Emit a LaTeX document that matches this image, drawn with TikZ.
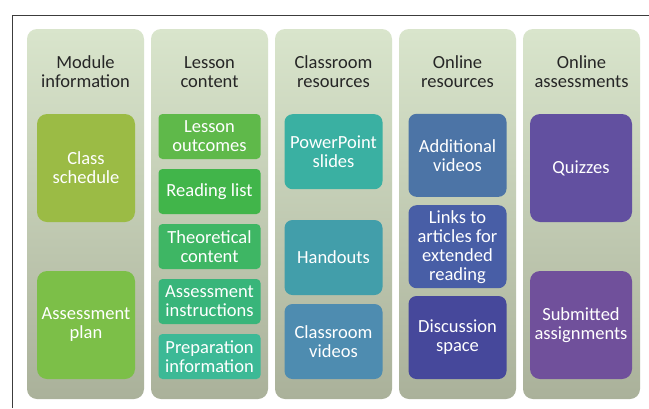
\documentclass[tikz,border=0pt]{standalone}
\usepackage{fontspec}
\setmainfont{Carlito}
\usetikzlibrary{positioning}

\definecolor{colTop}{RGB}{217,229,204}
\definecolor{colMid}{RGB}{202,212,188}
\definecolor{colBot}{RGB}{170,177,154}
\definecolor{headGray}{RGB}{38,38,38}
\definecolor{frameGray}{RGB}{60,60,60}
\definecolor{schedGreen}{RGB}{155,187,69}
\definecolor{planGreen}{RGB}{124,191,72}
\definecolor{lessA}{RGB}{95,185,74}
\definecolor{lessB}{RGB}{65,181,74}
\definecolor{lessC}{RGB}{62,182,100}
\definecolor{lessD}{RGB}{56,181,122}
\definecolor{lessE}{RGB}{60,185,150}
\definecolor{roomA}{RGB}{58,176,162}
\definecolor{roomB}{RGB}{66,158,170}
\definecolor{roomC}{RGB}{78,140,176}
\definecolor{webA}{RGB}{76,116,166}
\definecolor{webB}{RGB}{72,94,166}
\definecolor{webC}{RGB}{70,72,155}
\definecolor{quizPurple}{RGB}{98,80,160}
\definecolor{subPurple}{RGB}{112,80,155}

\tikzset{
  column/.style={rounded corners=10pt, minimum width=117pt, minimum height=370pt,
    inner sep=0pt, top color=colTop, middle color=colMid, bottom color=colBot},
  header/.style={text=headGray, align=center, font=\fontsize{18.5}{19}\selectfont},
  card/.style={text=white, align=center, inner sep=0pt, font=\fontsize{18.5}{19}\selectfont},
  bigcard/.style={card, rounded corners=10pt, minimum width=98pt, minimum height=108pt},
  slimcard/.style={card, rounded corners=4pt, minimum width=102pt, minimum height=45pt},
  midcard/.style={card, rounded corners=8pt, minimum width=98pt},
}

\begin{document}
\begin{tikzpicture}[x=1pt, y=-1pt]
  \useasboundingbox (0,0) rectangle (649,408);
  \fill[white] (0,0) rectangle (649,408);
  \draw[frameGray, line width=0.8pt] (12,408) |- (649,15);

  % columns
  \node[column] (module) at (85.5,214) {};
  \node[column] (lesson) at (209.5,214) {};
  \node[column] (classroom) at (333.5,214) {};
  \node[column] (online) at (457.5,214) {};
  \node[column] (assess) at (581.5,214) {};

  % headings
  \node[header] (moduleT) at (85.5,72) {Module\\information};
  \node[header] (lessonT) at (209.5,72) {Lesson\\content};
  \node[header] (classroomT) at (333.5,72) {Classroom\\resources};
  \node[header] (onlineT) at (457.5,72) {Online\\resources};
  \node[header] (assessT) at (581.5,72) {Online\\assessments};

  % module information
  \node[bigcard, fill=schedGreen] (sched) at (86,168) {Class\\schedule};
  \node[bigcard, fill=planGreen] (plan) at (86,325) {Assessment\\plan};

  % lesson content
  \node[slimcard, fill=lessA] (outcomes) at (209.5,136.5) {Lesson\\outcomes};
  \node[slimcard, fill=lessB] (reading) at (209.5,191.5) {Reading list};
  \node[slimcard, fill=lessC] (theory) at (209.5,246.5) {Theoretical\\content};
  \node[slimcard, fill=lessD] (instr) at (209.5,301.5) {Assessment\\instructions};
  \node[slimcard, fill=lessE] (prep) at (209.5,356.5) {Preparation\\information};

  % classroom resources
  \node[midcard, fill=roomA, minimum height=75pt] (slides) at (333.5,151.7) {PowerPoint\\slides};
  \node[midcard, fill=roomB, minimum height=75pt] (handouts) at (333.5,257.5) {Handouts};
  \node[midcard, fill=roomC, minimum height=75pt] (roomvid) at (333.5,341.5) {Classroom\\videos};

  % online resources
  \node[midcard, fill=webA, minimum height=83pt] (addvid) at (457.5,155.3) {Additional\\videos};
  \node[midcard, fill=webB, minimum height=83pt] (links) at (457.5,246.7) {Links to\\articles for\\extended\\reading};
  \node[midcard, fill=webC, minimum height=83pt] (discuss) at (457.5,337.5) {Discussion\\space};

  % online assessments
  \node[bigcard, fill=quizPurple, minimum width=102pt] (quiz) at (581,168) {Quizzes};
  \node[bigcard, fill=subPurple, minimum width=102pt] (submit) at (581,325) {Submitted\\assignments};
\end{tikzpicture}
\end{document}
